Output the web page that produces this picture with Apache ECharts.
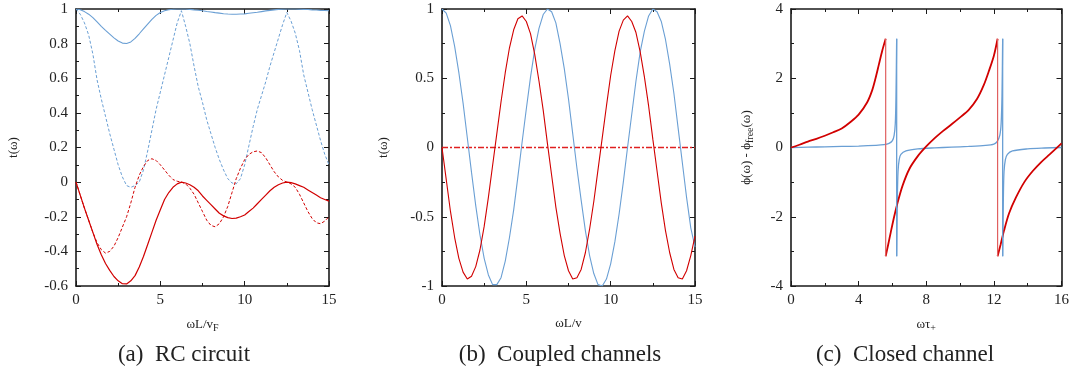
<!DOCTYPE html>
<html>
<head>
<meta charset="utf-8">
<script src="https://cdn.jsdelivr.net/npm/echarts@6/dist/echarts.min.js"></script>
<style>
  html, body { margin: 0; padding: 0; background: #fff; }
  #main { width: 1072px; height: 380px; }
</style>
</head>
<body>
<div id="main"></div>
<script>
// sample positions shared by panels (a) and (b)
var xs = [0,0.25,0.5,0.75,1,1.25,1.5,1.75,2,2.25,2.5,2.75,3,3.25,3.5,3.75,4,4.25,4.5,4.75,5,5.25,5.5,5.75,6,6.25,6.5,6.75,7,7.25,7.5,7.75,8,8.25,8.5,8.75,9,9.25,9.5,9.75,10,10.25,10.5,10.75,11,11.25,11.5,11.75,12,12.25,12.5,12.75,13,13.25,13.5,13.75,14,14.25,14.5,14.75,15];

// panel (a) RC circuit
var rcAbs = [1,0.996,0.985,0.97,0.95,0.925,0.9,0.877,0.855,0.833,0.815,0.803,0.801,0.81,0.83,0.857,0.885,0.913,0.94,0.963,0.98,0.99,0.996,0.999,1,1,1,0.998,0.995,0.993,0.99,0.986,0.983,0.979,0.976,0.973,0.971,0.97,0.97,0.971,0.972,0.975,0.978,0.981,0.985,0.989,0.992,0.995,0.998,0.999,1,1,1,0.999,0.998,0.997,0.995,0.994,0.992,0.991,0.99];
var rcRe = [1,0.97,0.92,0.85,0.74,0.59,0.48,0.38,0.28,0.19,0.1,0.03,-0.02,-0.03,-0.02,0,0.07,0.18,0.3,0.42,0.52,0.62,0.72,0.82,0.92,0.99,0.9,0.8,0.67,0.55,0.46,0.36,0.28,0.2,0.13,0.07,0.02,-0.005,-0.01,0.02,0.1,0.21,0.32,0.42,0.5,0.58,0.67,0.75,0.83,0.91,0.98,0.93,0.86,0.76,0.62,0.52,0.42,0.33,0.24,0.16,0.1];
var rcArg = [0,-0.075,-0.15,-0.22,-0.29,-0.36,-0.42,-0.47,-0.51,-0.545,-0.57,-0.587,-0.588,-0.57,-0.54,-0.49,-0.43,-0.36,-0.29,-0.22,-0.16,-0.1,-0.06,-0.03,-0.01,0,-0.005,-0.015,-0.03,-0.05,-0.08,-0.105,-0.13,-0.155,-0.18,-0.195,-0.205,-0.21,-0.208,-0.2,-0.19,-0.17,-0.15,-0.125,-0.1,-0.075,-0.05,-0.03,-0.015,-0.005,0,-0.003,-0.01,-0.02,-0.03,-0.045,-0.06,-0.075,-0.09,-0.1,-0.11];
var rcIm = [0,-0.075,-0.15,-0.22,-0.29,-0.35,-0.39,-0.41,-0.4,-0.37,-0.32,-0.26,-0.2,-0.12,-0.03,0.04,0.09,0.125,0.135,0.125,0.1,0.07,0.04,0.015,0.005,0,-0.01,-0.035,-0.07,-0.12,-0.17,-0.22,-0.25,-0.258,-0.24,-0.2,-0.14,-0.06,0.02,0.08,0.13,0.16,0.175,0.18,0.17,0.14,0.1,0.06,0.03,0.01,0,-0.01,-0.03,-0.07,-0.12,-0.17,-0.21,-0.235,-0.24,-0.225,-0.2];

// panel (b) coupled channels
var ccBlue = [1,0.97,0.88,0.73,0.54,0.32,0.07,-0.18,-0.42,-0.63,-0.8,-0.92,-0.99,-0.99,-0.94,-0.82,-0.65,-0.45,-0.21,0.04,0.28,0.51,0.71,0.86,0.96,1,0.98,0.9,0.75,0.57,0.35,0.1,-0.15,-0.38,-0.6,-0.78,-0.91,-0.99,-1,-0.95,-0.84,-0.68,-0.48,-0.25,0,0.24,0.48,0.69,0.84,0.95,1,0.98,0.91,0.78,0.6,0.39,0.14,-0.11,-0.36,-0.58,-0.72];
var ccRed = [0,-0.23,-0.46,-0.65,-0.8,-0.9,-0.95,-0.93,-0.86,-0.74,-0.57,-0.36,-0.13,0.1,0.33,0.54,0.72,0.85,0.93,0.95,0.91,0.82,0.67,0.48,0.27,0.03,-0.2,-0.43,-0.62,-0.78,-0.89,-0.95,-0.94,-0.88,-0.76,-0.59,-0.39,-0.16,0.07,0.3,0.52,0.7,0.84,0.92,0.95,0.91,0.83,0.69,0.51,0.3,0.06,-0.17,-0.4,-0.6,-0.76,-0.88,-0.94,-0.95,-0.89,-0.78,-0.64];
var ccZero = [[0,0],[15,0]];

// panel (c) closed channel, pieces between the 2pi jumps
var clBlue1 = [[0,0],[1,0.01],[2,0.02],[3,0.03],[4,0.04],[5,0.06],[5.5,0.08],[5.8,0.12],[6,0.2],[6.1,0.35],[6.17,0.7],[6.21,1.5],[6.25,3.14]];
var clBlue2 = [[6.25,-3.14],[6.29,-1.5],[6.33,-0.7],[6.4,-0.35],[6.5,-0.2],[6.8,-0.1],[7.5,-0.04],[8.5,-0.01],[9.5,0.01],[10.5,0.03],[11.5,0.06],[12,0.1],[12.2,0.18],[12.35,0.35],[12.43,0.7],[12.48,1.5],[12.52,3.14]];
var clBlue3 = [[12.52,-3.14],[12.56,-1.5],[12.6,-0.7],[12.68,-0.35],[12.8,-0.2],[13.1,-0.1],[14,-0.04],[15,-0.015],[16,0]];
var clRed1 = [[0,0],[0.5,0.08],[1,0.17],[1.5,0.25],[2,0.34],[2.5,0.44],[3,0.55],[3.5,0.73],[4,0.95],[4.5,1.3],[4.8,1.65],[5,2],[5.2,2.4],[5.4,2.8],[5.6,3.14]];
var clRed2 = [[5.6,-3.14],[5.75,-2.8],[5.9,-2.45],[6.1,-2],[6.3,-1.6],[6.6,-1.1],[7,-0.62],[7.5,-0.25],[8,0.03],[8.5,0.27],[9,0.48],[9.5,0.67],[10,0.87],[10.5,1.08],[11,1.4],[11.4,1.8],[11.7,2.2],[12,2.65],[12.22,3.14]];
var clRed3 = [[12.22,-3.14],[12.4,-2.8],[12.6,-2.4],[12.9,-1.9],[13.3,-1.45],[13.8,-1],[14.3,-0.68],[14.8,-0.42],[15.3,-0.2],[15.7,-0.02],[16,0.12]];
var clRedJumps = [[[5.6,3.14],[5.6,-3.14]],[[12.22,3.14],[12.22,-3.14]]];
var clBlueJumps = [[[6.25,3.14],[6.25,-3.14]],[[12.52,3.14],[12.52,-3.14]]];

var RED = "#d10000";
var BLUE = "#6a9fd4";
var FONT = "Liberation Serif";
var INK = "#1a1a1a";

var grids = [
  { left: 76, top: 9, width: 253, height: 277 },
  { left: 442, top: 9, width: 253, height: 277 },
  { left: 791, top: 9, width: 272, height: 277 }
];
var xRanges = [[0, 15, 5], [0, 15, 5], [0, 16, 4]];
var yRanges = [[-0.6, 1, 0.2], [-1, 1, 0.5], [-4, 4, 2]];
var xNames = ["ωL/v{s|F}", "ωL/v", "ωτ{s|+}"];
var yNames = ["t(ω)", "t(ω)", "ϕ(ω) - ϕ{s|free}(ω)"];
var yNameGaps = [56, 52, 36];

function pairs(y) {
  return y.map(function (v, i) { return [xs[i], v]; });
}

var frameLine = { show: true, onZero: false, lineStyle: { color: INK, width: 1.6 } };
var tick = { show: true, inside: true, length: 5, lineStyle: { color: INK } };
var minor = { show: true, splitNumber: 2, length: 3, lineStyle: { color: INK } };
var nameStyle = {
  fontFamily: FONT, fontSize: 13, color: "#222",
  rich: { s: { fontFamily: FONT, fontSize: 10, color: "#222", verticalAlign: "bottom", padding: [6, 0, 0, 0] } }
};
var labelStyle = { fontFamily: FONT, fontSize: 15, color: "#222" };

var xAxis = [], yAxis = [];
grids.forEach(function (g, i) {
  var xr = xRanges[i], yr = yRanges[i];
  xAxis.push({
    gridIndex: i, type: "value", min: xr[0], max: xr[1], interval: xr[2],
    position: "bottom", axisLine: frameLine, axisTick: tick, minorTick: minor,
    splitLine: { show: false },
    axisLabel: Object.assign({ margin: 7 }, labelStyle),
    name: xNames[i], nameLocation: "middle", nameGap: 31, nameTextStyle: nameStyle
  });
  xAxis.push({
    gridIndex: i, type: "value", min: xr[0], max: xr[1], interval: xr[2],
    position: "top", axisLine: frameLine, axisTick: tick, minorTick: minor,
    splitLine: { show: false }, axisLabel: { show: false }
  });
  yAxis.push({
    gridIndex: i, type: "value", min: yr[0], max: yr[1], interval: yr[2],
    position: "left", axisLine: frameLine, axisTick: tick, minorTick: minor,
    splitLine: { show: false },
    axisLabel: Object.assign({ margin: 8 }, labelStyle),
    name: yNames[i], nameLocation: "middle", nameRotate: 90, nameGap: yNameGaps[i], nameTextStyle: nameStyle
  });
  yAxis.push({
    gridIndex: i, type: "value", min: yr[0], max: yr[1], interval: yr[2],
    position: "right", axisLine: frameLine, axisTick: tick, minorTick: minor,
    splitLine: { show: false }, axisLabel: { show: false }
  });
});

function line(panel, data, color, width, type, smooth) {
  return {
    type: "line", xAxisIndex: panel * 2, yAxisIndex: panel * 2, data: data,
    color: color, itemStyle: { color: color },
    showSymbol: false, smooth: smooth || false, animation: false,
    lineStyle: { color: color, width: width, type: type || "solid" }, z: 3
  };
}

var series = [
  line(0, pairs(rcAbs), BLUE, 1.1),
  line(0, pairs(rcRe), BLUE, 1, [3, 2]),
  line(0, pairs(rcArg), RED, 1.2),
  line(0, pairs(rcIm), RED, 1, [3, 2]),
  line(1, ccZero, "#e02020", 1.3, [6, 2, 2, 2]),
  line(1, pairs(ccBlue), BLUE, 1.1),
  line(1, pairs(ccRed), RED, 1.1),
  line(2, clBlue1, BLUE, 1.3, "solid", 0.3),
  line(2, clBlue2, BLUE, 1.3, "solid", 0.3),
  line(2, clBlue3, BLUE, 1.3, "solid", 0.3),
  line(2, clRed1, RED, 1.8, "solid", 0.3),
  line(2, clRed2, RED, 1.8, "solid", 0.3),
  line(2, clRed3, RED, 1.8, "solid", 0.3)
];
clRedJumps.forEach(function (d) { series.push(line(2, d, "#e06060", 1.2)); });
clBlueJumps.forEach(function (d) { series.push(line(2, d, BLUE, 1.3)); });

var captions = ["(a)  RC circuit", "(b)  Coupled channels", "(c)  Closed channel"];
var captionX = [184, 560, 905];

var chart = echarts.init(document.getElementById("main"), null, { renderer: "canvas" });
chart.setOption({
  backgroundColor: "#fff",
  animation: false,
  grid: grids,
  xAxis: xAxis,
  yAxis: yAxis,
  series: series,
  graphic: captions.map(function (t, i) {
    return {
      type: "text", x: captionX[i], y: 355,
      style: { text: t, fontFamily: FONT, fontSize: 23, fill: "#222", align: "center", verticalAlign: "middle" }
    };
  })
});
</script>
</body>
</html>
